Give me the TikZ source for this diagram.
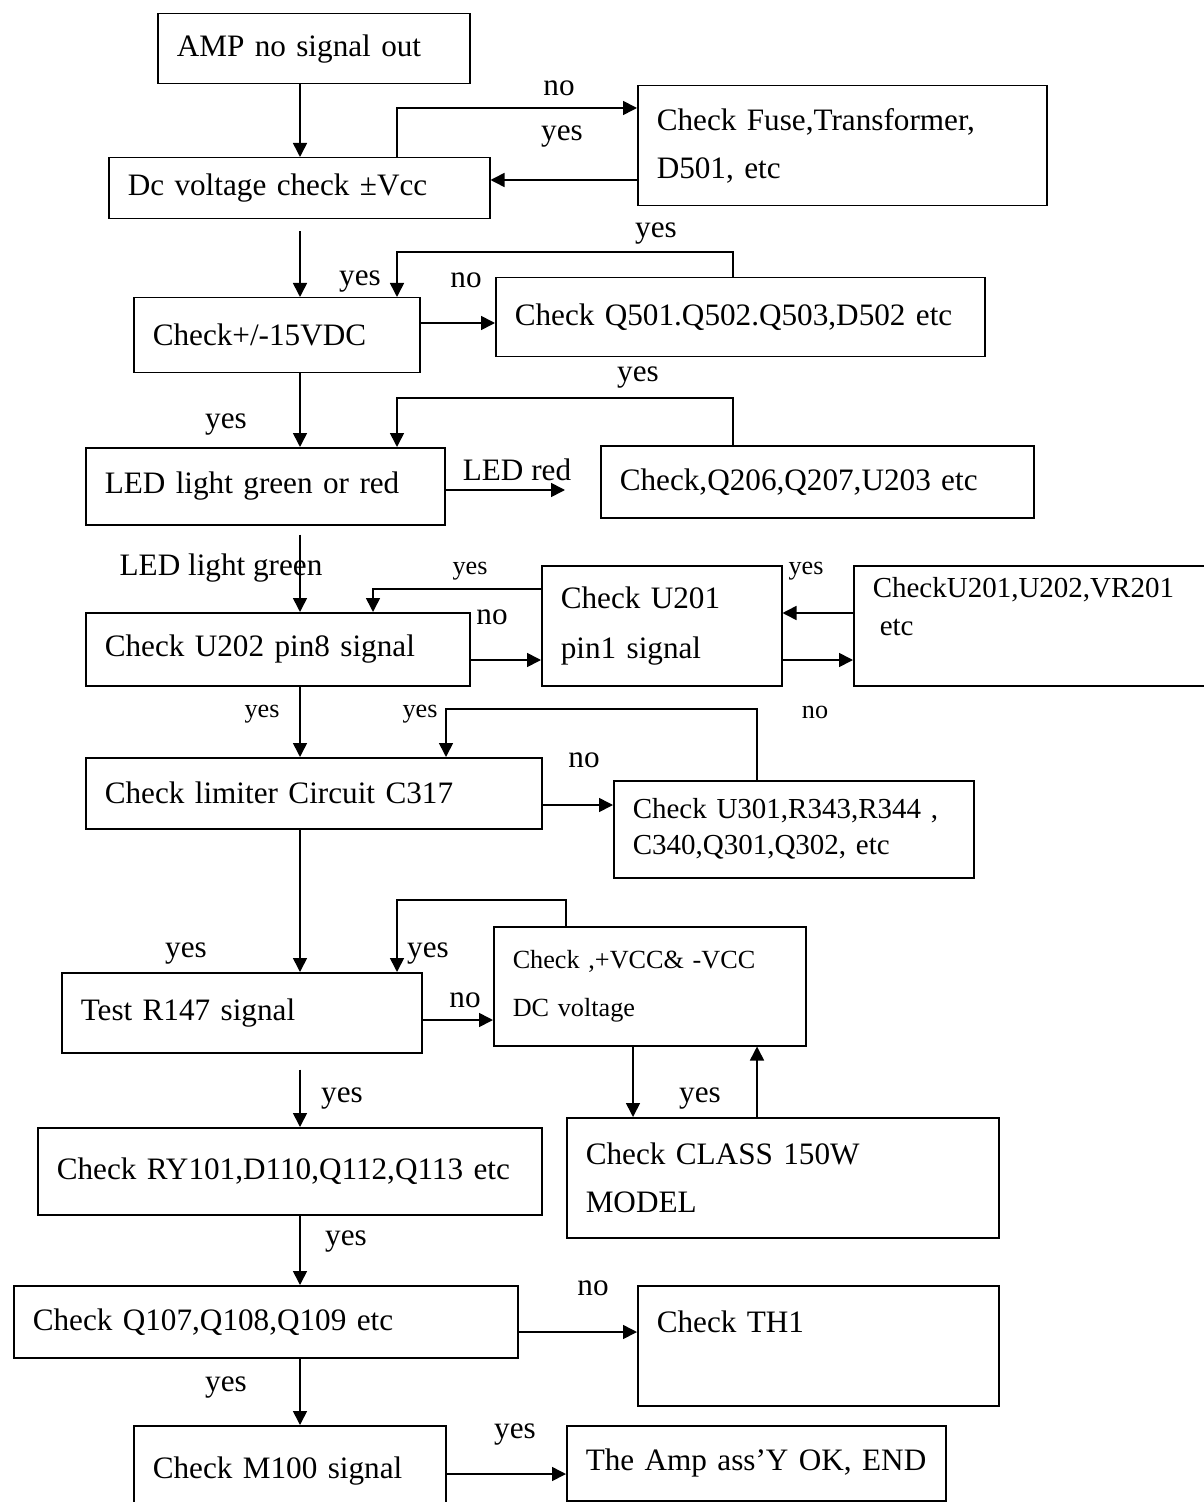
\documentclass[tikz,border=0pt]{standalone}
\usepackage{fontspec}
\setmainfont{Liberation Serif}
\usetikzlibrary{arrows.meta,calc}

\tikzset{
    box/.style 2 args={draw, line width=0.75pt, anchor=north west, align=left,
        inner xsep=9.5pt, inner ysep=0pt, text width=#1, minimum height=#2},
    arr/.style={line width=0.8pt, -{Triangle[length=7pt,width=7pt]}},
    lbl/.style={inner sep=0pt},
    small/.style={font=\fontsize{13.1}{24}\selectfont},
}

\begin{document}
\begin{tikzpicture}[x=0.5pt, y=-0.5pt, font=\fontsize{15.6}{24}\selectfont]
    \useasboundingbox (0,0) rectangle (1203,1502);
    \coordinate (trunk) at (300,0);
    \coordinate (ledred) at (565,490);

    % Boxes
    \node[box={137pt}{35pt}] (amp) at (157,13) {AMP no signal out};
    \node[box={171.5pt}{30.5pt}] (dcv) at (108,157) {Dc voltage check ±Vcc};
    \node[box={185.5pt}{60pt}] (fuse) at (637,85) {Check Fuse,Transformer,\\D501, etc};
    \node[box={124pt}{37.5pt}] (pm15) at (133,297) {Check+/-15VDC};
    \node[box={225.5pt}{39.5pt}] (q501) at (495,277) {Check Q501.Q502.Q503,D502 etc};
    \node[box={160.5pt}{38.5pt}] (led) at (85,447) {LED light green or red};
    \node[box={197.5pt}{36pt}] (q206) at (600,445) {Check,Q206,Q207,U203 etc};
    \node[box={173pt}{36.5pt}] (u202) at (85,612) {Check U202 pin8 signal};
    \node[box={101pt}{60pt}, font=\fontsize{15.6}{25}\selectfont] (u201) at (541,565)
        {Check U201\\pin1 signal};
    \node[box={162pt}{60pt}, font=\fontsize{14.5}{19}\selectfont] (vr201) at (853,565)
        {CheckU201,U202,VR201\\\hspace{3.5pt}etc\\\mbox{}};
    \node[box={209pt}{35.5pt}] (lim) at (85,757) {Check limiter Circuit C317};
    \node[box={161pt}{48.5pt}, font=\fontsize{14.5}{18}\selectfont] (u301) at (613,780)
        {Check U301,R343,R344 ,\\C340,Q301,Q302, etc};
    \node[box={161pt}{40pt}] (r147) at (61,972) {Test R147 signal};
    \node[box={137pt}{59.5pt}, small] (vcc) at (493,926)
        {Check ,+VCC\& -VCC\\DC voltage};
    \node[box={233pt}{43.5pt}] (ry101) at (37,1127) {Check RY101,D110,Q112,Q113 etc};
    \node[box={197pt}{60pt}] (class) at (566,1117) {Check CLASS 150W\\MODEL};
    \node[box={233pt}{36pt}] (q107) at (13,1285) {Check Q107,Q108,Q109 etc};
    \node[box={161.5pt}{60pt}] (th1) at (637,1285) {Check TH1\\\mbox{}};
    \node[box={137pt}{45pt}] (m100) at (133,1425) {Check M100 signal};
    \node[box={170.5pt}{37.5pt}] (ampok) at (566,1425) {\mbox{The Amp ass’Y OK, END}};

    % Main line
    \draw[arr] (amp.south -| trunk) -- (dcv.north -| trunk);
    \draw[arr] ($(dcv.south -| trunk)+(0,12)$) -- (pm15.north -| trunk);
    \draw[arr] (pm15.south -| trunk) -- (led.north -| trunk);
    \draw[arr] ($(led.south -| trunk)+(0,9)$) -- (u202.north -| trunk);
    \draw[arr] (u202.south -| trunk) -- (lim.north -| trunk);
    \draw[arr] (lim.south -| trunk) -- (r147.north -| trunk);
    \draw[arr] ($(r147.south -| trunk)+(0,16)$) -- (ry101.north -| trunk);
    \draw[arr] (ry101.south -| trunk) -- (q107.north -| trunk);
    \draw[arr] (q107.south -| trunk) -- (m100.north -| trunk);

    % Side branches
    \draw[arr] ($(dcv.north west)+(289,0)$) |- ($(fuse.north west)+(0,23)$);
    \draw[arr] ($(fuse.north west)+(0,95)$) coordinate (f1) -- (dcv.east |- f1);
    \draw[arr] ($(pm15.north east)+(0,26)$) coordinate (p1) -- (q501.west |- p1);
    \draw[arr] ($(q501.north west)+(238,0)$) -- ++(0,-25) -| ($(pm15.north west)+(264,0)$);
    \draw[arr] ($(q206.north west)+(133,0)$) -- ++(0,-47) -| ($(led.north west)+(312,0)$);
    \draw[arr] (led.east |- ledred) -- (ledred);
    \draw[arr] ($(u201.north west)+(0,24)$) -| ($(u202.north west)+(288,0)$);
    \draw[arr] ($(u202.north east)+(0,48)$) coordinate (u1) -- (u201.west |- u1);
    \draw[arr] ($(vr201.north west)+(0,48)$) coordinate (u2) -- (u201.east |- u2);
    \draw[arr] ($(u201.north east)+(0,95)$) coordinate (u3) -- (vr201.west |- u3);
    \draw[arr] ($(u301.north west)+(144,0)$) -- ++(0,-71) -| ($(lim.north west)+(361,0)$);
    \draw[arr] ($(lim.north east)+(0,48)$) coordinate (l1) -- (u301.west |- l1);
    \draw[arr] ($(vcc.north west)+(73,0)$) -- ++(0,-26) -| ($(r147.north west)+(336,0)$);
    \draw[arr] ($(r147.north east)+(0,48)$) coordinate (r1) -- (vcc.west |- r1);
    \draw[arr] ($(vcc.south west)+(140,0)$) coordinate (v1) -- (class.north -| v1);
    \draw[arr] ($(class.north west)+(191,0)$) coordinate (v2) -- (vcc.south -| v2);
    \draw[arr] ($(q107.north east)+(0,47)$) coordinate (q1) -- (th1.west |- q1);
    \draw[arr] ($(m100.north east)+(0,49)$) coordinate (m1) -- (ampok.west |- m1);

    % Labels
    \node[lbl] (n1) at (559,88) {no};
    \node[lbl] (y1) at (562,137) {yes};
    \node[lbl] (y2) at (656,234) {yes};
    \node[lbl] (y3) at (360,282) {yes};
    \node[lbl] (n2) at (466,280) {no};
    \node[lbl] (y4) at (638,378) {yes};
    \node[lbl] (y5) at (226,425) {yes};
    \node[lbl] (ledr) at (517,470) {LED red};
    \node[lbl] (ledg) at (221,568) {LED light green};
    \node[lbl, small] (y6) at (470,571) {yes};
    \node[lbl, small] (y7) at (806,571) {yes};
    \node[lbl] (n3) at (492,617) {no};
    \node[lbl, small] (y8) at (262,714) {yes};
    \node[lbl, small] (y9) at (420,714) {yes};
    \node[lbl, small] (n4) at (815,712) {no};
    \node[lbl] (n5) at (584,760) {no};
    \node[lbl] (y10) at (186,954) {yes};
    \node[lbl] (y11) at (428,954) {yes};
    \node[lbl] (n6) at (465,1000) {no};
    \node[lbl] (y12) at (342,1099) {yes};
    \node[lbl] (y13) at (700,1099) {yes};
    \node[lbl] (y14) at (346,1242) {yes};
    \node[lbl] (n7) at (593,1288) {no};
    \node[lbl] (y15) at (226,1387) {yes};
    \node[lbl] (y16) at (515,1434) {yes};
\end{tikzpicture}
\end{document}
